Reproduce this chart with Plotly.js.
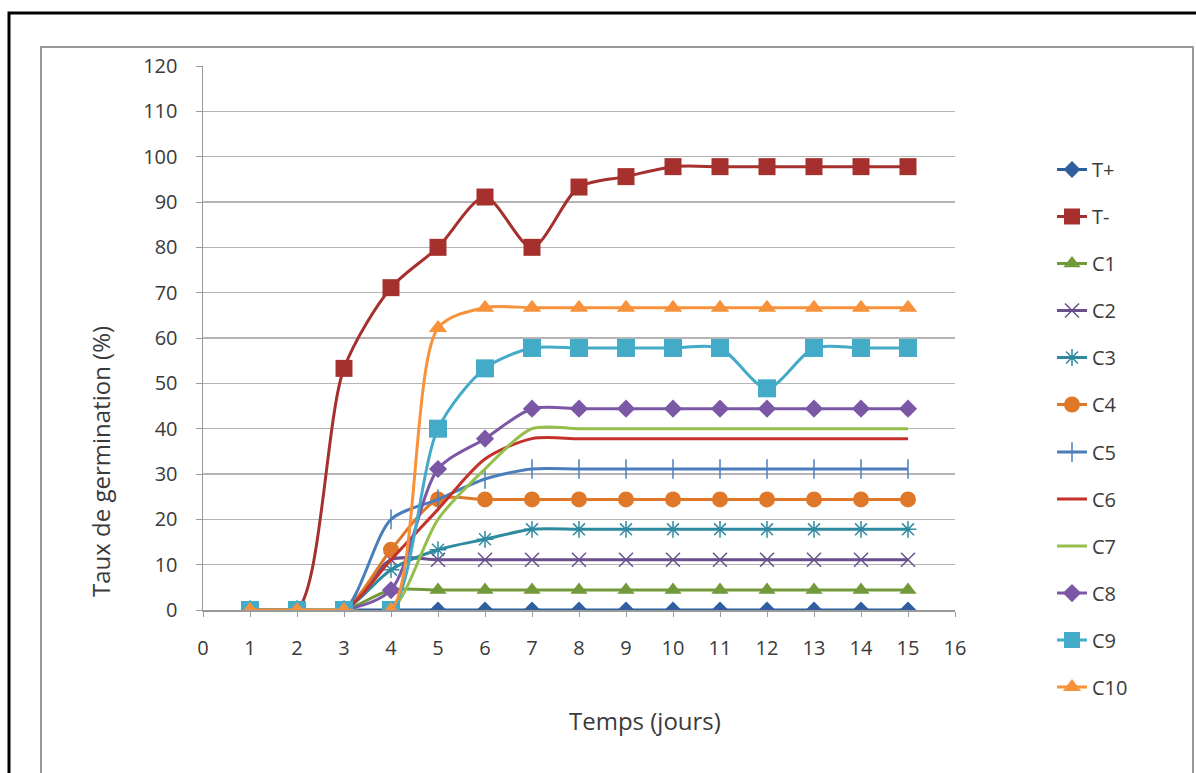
<!DOCTYPE html>
<html>
<head>
<meta charset="utf-8">
<script src="https://cdn.plot.ly/plotly-3.0.1.min.js"></script>
<style>
html,body{margin:0;padding:0;background:#fff;}
#chart{width:1196px;height:773px;}
</style>
</head>
<body>
<div id="chart"></div>
<script>
const days = [1,2,3,4,5,6,7,8,9,10,11,12,13,14,15];
const seriesNames = ["T+","T-","C1","C2","C3","C4","C5","C6","C7","C8","C9","C10"];
const Tplus = [0,0,0,0,0,0,0,0,0,0,0,0,0,0,0];
const Tminus = [0,0,53.3,71.1,80,91.1,80,93.3,95.6,97.8,97.8,97.8,97.8,97.8,97.8];
const C1 = [0,0,0,4.4,4.4,4.4,4.4,4.4,4.4,4.4,4.4,4.4,4.4,4.4,4.4];
const C2 = [0,0,0,11.1,11.1,11.1,11.1,11.1,11.1,11.1,11.1,11.1,11.1,11.1,11.1];
const C3 = [0,0,0,8.9,13.3,15.6,17.8,17.8,17.8,17.8,17.8,17.8,17.8,17.8,17.8];
const C4 = [0,0,0,13.3,24.4,24.4,24.4,24.4,24.4,24.4,24.4,24.4,24.4,24.4,24.4];
const C5 = [0,0,0,20,24.4,28.9,31.1,31.1,31.1,31.1,31.1,31.1,31.1,31.1,31.1];
const C6 = [0,0,0,11.1,22.2,33.3,37.8,37.8,37.8,37.8,37.8,37.8,37.8,37.8,37.8];
const C7 = [0,0,0,0,20,31.1,40,40,40,40,40,40,40,40,40];
const C8 = [0,0,0,4.4,31.1,37.8,44.4,44.4,44.4,44.4,44.4,44.4,44.4,44.4,44.4];
const C9 = [0,0,0,0,40,53.3,57.8,57.8,57.8,57.8,57.8,48.9,57.8,57.8,57.8];
const C10 = [0,0,0,0,62.2,66.7,66.7,66.7,66.7,66.7,66.7,66.7,66.7,66.7,66.7];
const yTicks = [0,10,20,30,40,50,60,70,80,90,100,110,120];
const xTicks = [0,1,2,3,4,5,6,7,8,9,10,11,12,13,14,15,16];

const values = [Tplus,Tminus,C1,C2,C3,C4,C5,C6,C7,C8,C9,C10];
const styles = [
  {color:"#2f5f9e", symbol:"diamond", size:13},
  {color:"#a5302d", symbol:"square", size:17},
  {color:"#72993a", symbol:"triangle-up", size:15},
  {color:"#6a4f8c", symbol:"x-thin-open", size:14},
  {color:"#2f8aa0", symbol:"asterisk-open", size:14},
  {color:"#e0782a", symbol:"circle", size:16},
  {color:"#4a7ebb", symbol:"line-ns-open", size:14},
  {color:"#c4312b", symbol:null},
  {color:"#95bf4c", symbol:null},
  {color:"#7b58a6", symbol:"diamond", size:14},
  {color:"#43aac8", symbol:"square", size:18},
  {color:"#f7923a", symbol:"triangle-up", size:16}
];

const traces = seriesNames.map((name,i)=>{
  const s = styles[i];
  const t = {
    type:"scatter",
    x: days,
    y: values[i],
    name: name,
    legend: i < 6 ? "legend" : "legend2",
    legendgroup: "g"+i,
    line:{color:s.color,width:3,shape:"spline",smoothing:0.8},
  };
  if (s.symbol){
    t.mode = "lines+markers";
    t.marker = {symbol:s.symbol,size:s.size,color:s.color,line:{color:s.color,width:(s.symbol.indexOf("open")>=0?1.5:0)}};
  } else {
    t.mode = "lines";
  }
  return t;
});

const W = 752, H = 544, L = 203, T = 66;
const px = v => (v - L)/W;
const py = v => (T + H - v)/H;

const legendBase = {
  x:px(1052), xanchor:"left", yanchor:"top",
  font:{size:20,color:"#3a3a3a"},
  tracegroupgap:18,
  bgcolor:"rgba(0,0,0,0)"
};

const layout = {
  width:1196, height:773,
  margin:{l:203,r:241,t:66,b:163},
  paper_bgcolor:"#ffffff",
  plot_bgcolor:"#ffffff",
  font:{family:"Open Sans, Liberation Sans, sans-serif", color:"#3a3a3a", size:20},
  showlegend:true,
  legend:Object.assign({}, legendBase, {y:py(150)}),
  legend2:Object.assign({}, legendBase, {y:py(150 + 6*47.1)}),
  xaxis:{
    range:[0,16], tickvals:xTicks, ticktext:xTicks.map(String),
    showgrid:false, zeroline:false,
    showline:true, linecolor:"#9a9a9a", linewidth:1.5,
    ticks:"outside", ticklen:5, tickcolor:"#9a9a9a",
    ticklabelstandoff:14,
    tickfont:{size:20,color:"#3a3a3a"},
    fixedrange:true
  },
  yaxis:{
    range:[0,120], tickvals:yTicks, ticktext:yTicks.map(String),
    showgrid:true, gridcolor:"#b4b4b4", gridwidth:1.5,
    zeroline:false,
    showline:true, linecolor:"#9a9a9a", linewidth:1.5,
    ticks:"outside", ticklen:6, tickcolor:"#9a9a9a",
    ticklabelstandoff:14,
    tickfont:{size:20,color:"#3a3a3a"},
    fixedrange:true
  },
  annotations:[
    {text:"Temps (jours)", xref:"paper", yref:"paper", x:px(645), y:py(720),
     showarrow:false, xanchor:"center", yanchor:"middle", font:{size:24,color:"#3a3a3a"}},
    {text:"Taux de germination (%)", xref:"paper", yref:"paper", x:px(100), y:py(462),
     showarrow:false, textangle:-90, xanchor:"center", yanchor:"middle", font:{size:24,color:"#3a3a3a"}}
  ],
  shapes:[
    {type:"rect", xref:"paper", yref:"paper", x0:px(9), x1:px(1210), y0:py(800), y1:py(13),
     line:{color:"#000000",width:3}, layer:"below"},
    {type:"rect", xref:"paper", yref:"paper", x0:px(41), x1:px(1193), y0:py(800), y1:py(47),
     line:{color:"#9a9a9a",width:2}, layer:"below"}
  ]
};

Plotly.newPlot("chart", traces, layout, {displayModeBar:false, staticPlot:true});
</script>
</body>
</html>
